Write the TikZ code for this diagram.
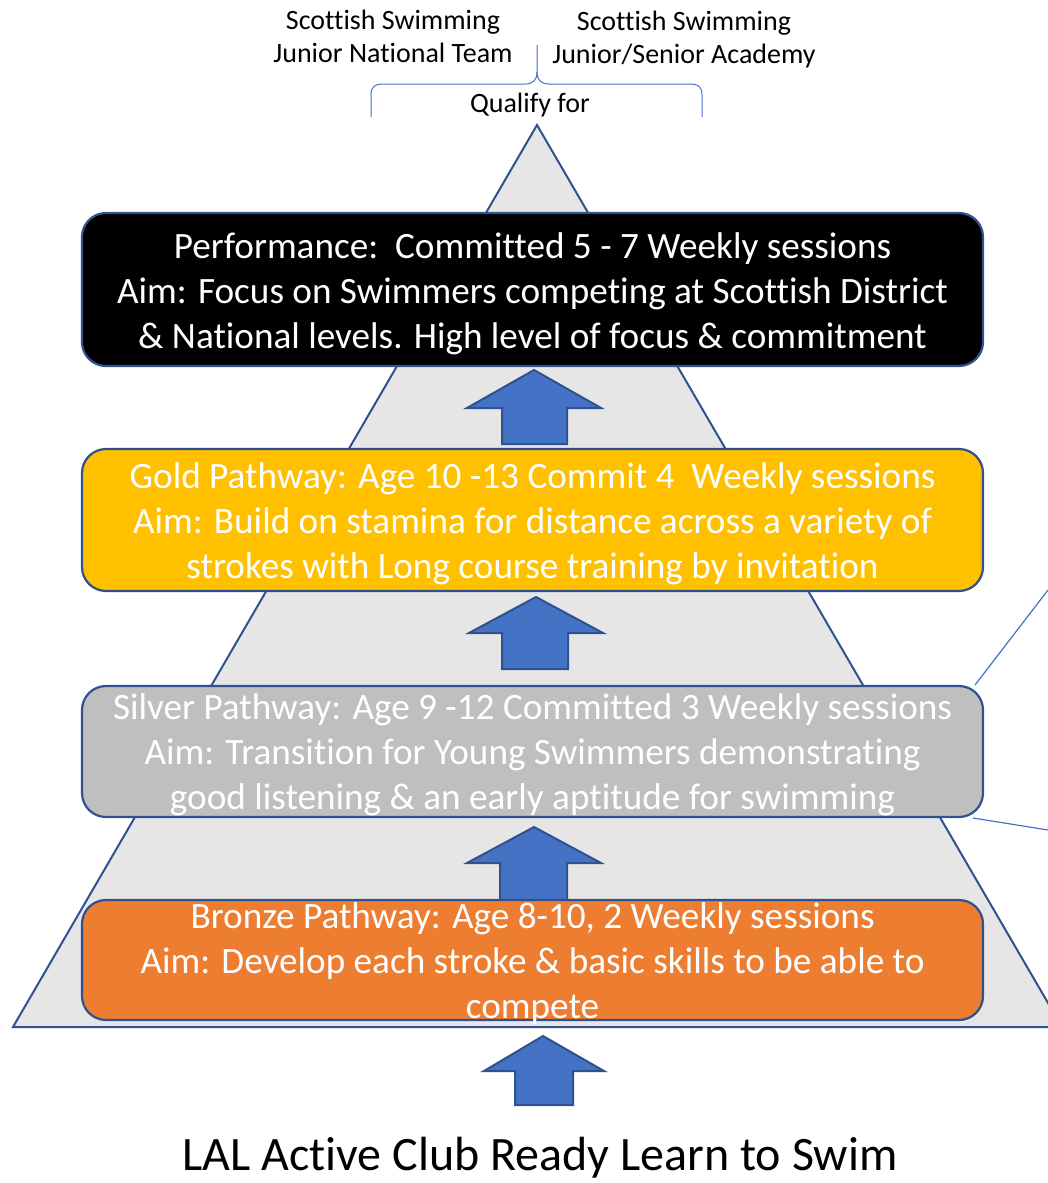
\documentclass[tikz,border=0pt]{standalone}
\usepackage{fontspec}
\setmainfont{Carlito}[Ligatures=NoCommon]
\definecolor{bord}{HTML}{2F528F}
\definecolor{arrfill}{HTML}{4472C4}
\definecolor{trifill}{HTML}{E7E6E6}
\definecolor{goldc}{HTML}{FFC000}
\definecolor{silvc}{HTML}{BFBFBF}
\definecolor{bronzec}{HTML}{ED7D31}
\begin{document}
\begin{tikzpicture}[x=1pt,y=-1pt,
  tier/.style={draw=bord, line width=2.2pt, rounded corners=24pt, minimum width=901pt, inner sep=0pt},
  tiertext/.style={text=white, align=center, font=\fontsize{37.2}{45}\selectfont, inner sep=0pt},
  uparrow/.style={fill=arrfill, draw=bord, line width=2pt, line join=miter},
  toptext/.style={align=center, font=\fontsize{28}{33}\selectfont, inner sep=0pt},
  thinline/.style={draw=arrfill, line width=1.2pt}
]
\useasboundingbox (0,0) rectangle (1048,1183);
% pyramid
\draw[fill=trifill, draw=bord, line width=2pt, line join=miter] (537,125) -- (1062,1027) -- (13,1027) -- cycle;
% side lines
\coordinate (s1a) at (975,685);
\coordinate (s1b) at (1048,590);
\coordinate (s2a) at (973,818);
\coordinate (s2b) at (1048,830);
\draw[thinline] (s1a) -- (s1b);
\draw[thinline] (s2a) -- (s2b);
% arrows
\draw[uparrow] (534,370) -- (601,408) -- (567,408) -- (567,444) -- (502,444) -- (502,408) -- (467,408) -- cycle;
\draw[uparrow] (536,597) -- (603,633) -- (568,633) -- (568,669) -- (502,669) -- (502,633) -- (469,633) -- cycle;
\draw[uparrow] (534,827) -- (601,863) -- (567,863) -- (567,905) -- (500,905) -- (500,863) -- (467,863) -- cycle;
\draw[uparrow] (543,1036) -- (604,1071) -- (573,1071) -- (573,1105) -- (515,1105) -- (515,1071) -- (484,1071) -- cycle;
% tiers
\node[tier, fill=black, minimum height=153pt] (perf) at (532.5,289.5) {};
\node[tiertext] (perft) at (532.5,293.5) {Performance:\ \ Committed 5 - 7 Weekly sessions\\Aim: Focus on Swimmers competing at Scottish District\\\& National levels. High level of focus \& commitment};
\node[tier, fill=goldc, minimum height=142pt] (gold) at (532.5,520) {};
\node[tiertext] (goldt) at (532.5,524) {Gold Pathway: Age 10 -13 Commit 4\ \ Weekly sessions\\Aim: Build on stamina for distance across a variety of\\strokes with Long course training by invitation};
\node[tier, fill=silvc, minimum height=131pt] (silver) at (532.5,751.5) {};
\node[tiertext] (silvert) at (532.5,755) {Silver Pathway: Age 9 -12 Committed 3 Weekly sessions\\Aim: Transition for Young Swimmers demonstrating\\good listening \& an early aptitude for swimming};
\node[tier, fill=bronzec, minimum height=120pt] (bronze) at (532.5,960) {};
\node[tiertext] (bronzet) at (532.5,963.5) {Bronze Pathway: Age 8-10, 2 Weekly sessions\\Aim: Develop each stroke \& basic skills to be able to\\compete};
% top brace
\draw[thinline, line width=1pt] (371,117) -- (371,95) .. controls (371,86) and (375,84) .. (385,84) -- (525,84) .. controls (533,84) and (537,80) .. (537,72) -- (537,45);
\draw[thinline, line width=1pt] (702,117) -- (702,95) .. controls (702,86) and (698,84) .. (688,84) -- (549,84) .. controls (541,84) and (537,80) .. (537,72);
\node[toptext] (jnt) at (393,36) {Scottish Swimming\\Junior National Team};
\node[toptext] (jsa) at (684,40) {Scottish Swimming\\Junior/Senior Academy};
\node[toptext] (qual) at (530,105) {Qualify for};
% bottom label
\node[inner sep=0pt, font=\fontsize{48}{56}\selectfont] (lal) at (540,1158) {LAL Active Club Ready Learn to Swim};
\end{tikzpicture}
\end{document}
